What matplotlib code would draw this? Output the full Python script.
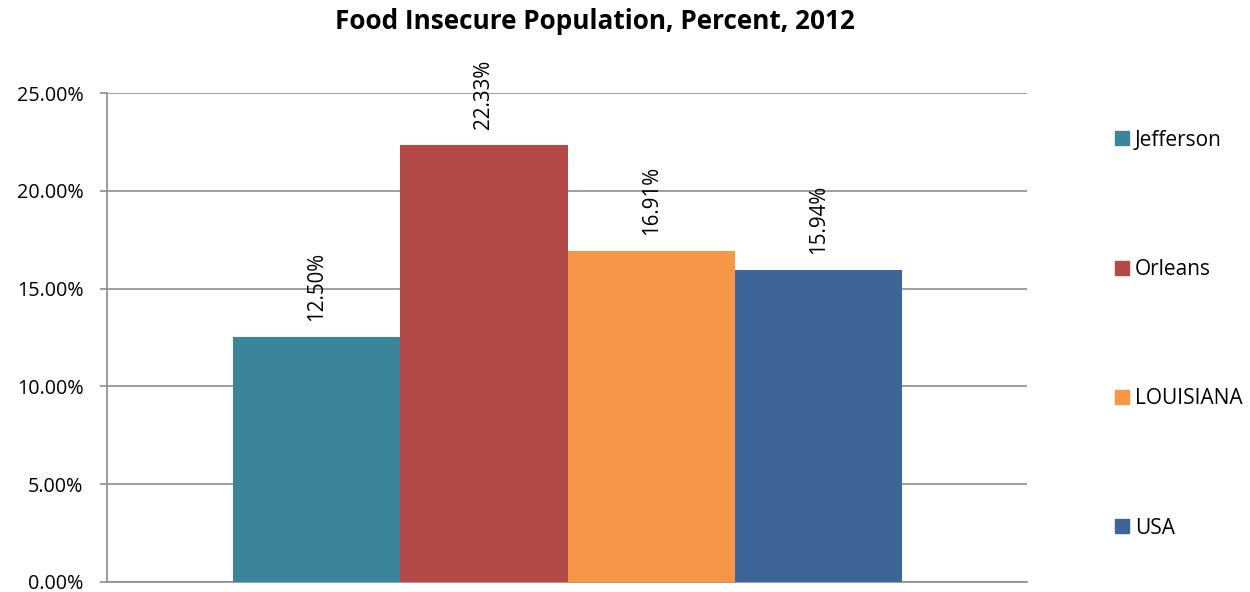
import matplotlib.pyplot as plt
from matplotlib.patches import Patch

plt.rcParams['font.family'] = ['Open Sans', 'DejaVu Sans']

categories = ["Jefferson", "Orleans", "LOUISIANA", "USA"]
values = [12.50, 22.33, 16.91, 15.94]
colors = ["#3a8599", "#b34a47", "#f79646", "#3e6597"]
yticks = [0, 5, 10, 15, 20, 25]

fig = plt.figure(figsize=(12.5, 5.92), dpi=100)
ax = fig.add_axes([0.0856, 0.0169, 0.736, 0.826])

x = range(len(categories))
ax.bar(x, values, width=1.0, color=colors, zorder=3)
for xi, v in zip(x, values):
    ax.annotate(f"{v:.2f}%", (xi, v), xytext=(0, 12), textcoords="offset points",
                rotation=90, ha="center", va="bottom", fontsize=14.8, color="#000000")

ax.set_xlim(-1.253, 4.247)
ax.set_ylim(0, 25)
ax.set_yticks(yticks)
ax.set_yticklabels([f"{t:.2f}%" for t in yticks], fontsize=14.2)
ax.set_xticks([])
ax.yaxis.grid(True, color="#8c8c8c", linewidth=1.2, zorder=0)
for side in ["top", "right"]:
    ax.spines[side].set_visible(False)
for side in ["left", "bottom"]:
    ax.spines[side].set_color("#8c8c8c")
    ax.spines[side].set_linewidth(1.2)
ax.tick_params(axis="y", length=5, width=1.2, color="#8c8c8c", pad=12)

fig.text(0.476, 0.963, "Food Insecure Population, Percent, 2012", ha="center", va="center",
         fontsize=18.8, fontweight="bold")

handles = [Patch(color=c) for c in colors]
fig.legend(handles, categories, loc="upper left", bbox_to_anchor=(0.892, 0.781),
           frameon=False, fontsize=15, handlelength=0.65, handleheight=0.65,
           handletextpad=0.3, labelspacing=5.2, borderaxespad=0, borderpad=0)

fig.savefig("out.png", dpi=100)
